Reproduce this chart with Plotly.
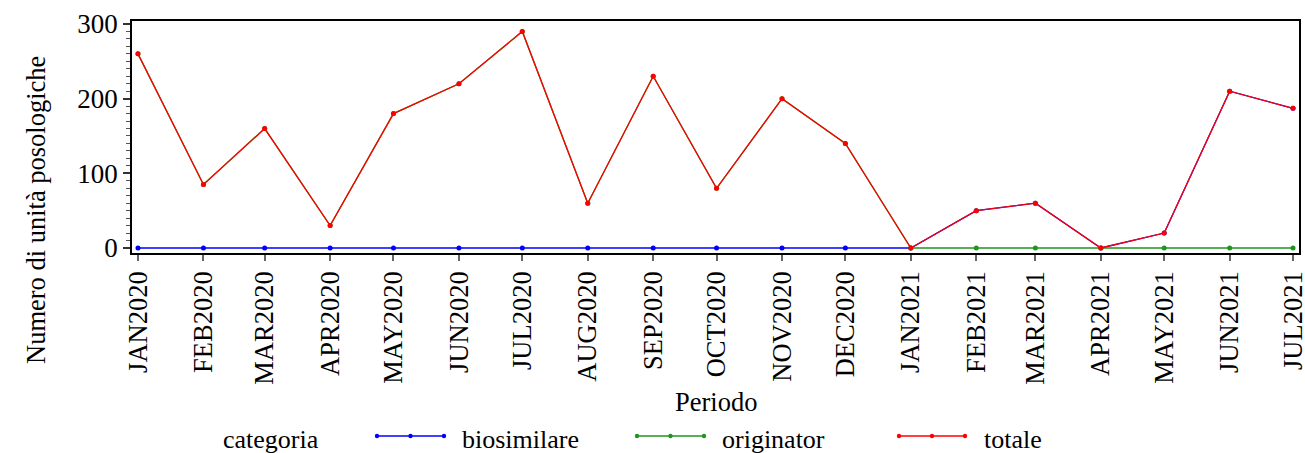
import plotly.graph_objects as go

periodi = ["2020-01-01", "2020-02-01", "2020-03-01", "2020-04-01", "2020-05-01", "2020-06-01",
           "2020-07-01", "2020-08-01", "2020-09-01", "2020-10-01", "2020-11-01", "2020-12-01",
           "2021-01-01", "2021-02-01", "2021-03-01", "2021-04-01", "2021-05-01", "2021-06-01",
           "2021-07-01"]
etichette = ["JAN2020", "FEB2020", "MAR2020", "APR2020", "MAY2020", "JUN2020", "JUL2020",
             "AUG2020", "SEP2020", "OCT2020", "NOV2020", "DEC2020", "JAN2021", "FEB2021",
             "MAR2021", "APR2021", "MAY2021", "JUN2021", "JUL2021"]
totale = [260, 85, 160, 30, 180, 220, 290, 60, 230, 80, 200, 140, 0, 50, 60, 0, 20, 210, 187]
biosimilare = [0, 0, 0, 0, 0, 0, 0, 0, 0, 0, 0, 0, 0, 50, 60, 0, 20, 210, 187]
originator = [260, 85, 160, 30, 180, 220, 290, 60, 230, 80, 200, 140, 0, 0, 0, 0, 0, 0, 0]

categorie = ["biosimilare", "originator", "totale"]
colori = {"biosimilare": "#0000FF", "originator": "#1E961E", "totale": "#FF0000"}
valori = {"biosimilare": biosimilare, "originator": originator, "totale": totale}

FONT = "Liberation Serif"
W, H = 1305, 453
ML, MR, MT, MB = 132, 6, 21, 200
PW, PH = W - ML - MR, H - MT - MB


def px2x(px):
    return (px - ML) / PW


def px2y(py):
    return (H - MB - py) / PH


fig = go.Figure()
for c in categorie:
    fig.add_trace(go.Scatter(
        x=periodi, y=valori[c], mode="lines+markers", name=c,
        line=dict(color=colori[c], width=1.3),
        marker=dict(color=colori[c], size=5, symbol="circle"),
        showlegend=False, cliponaxis=False,
    ))

# manual legend
shapes = []
annotations = []
ly = 436
annotations.append(dict(text="categoria", x=px2x(221), y=px2y(439), xref="paper", yref="paper",
                        xanchor="left", yanchor="middle", showarrow=False,
                        font=dict(family=FONT, size=26, color="black")))
leg_pos = {"biosimilare": (376, 445, 460), "originator": (636, 705, 720), "totale": (898, 966, 982)}
for c in categorie:
    x0, x1, xt = leg_pos[c]
    shapes.append(dict(type="line", xref="paper", yref="paper", x0=px2x(x0), x1=px2x(x1),
                       y0=px2y(ly), y1=px2y(ly), line=dict(color=colori[c], width=1.3)))
    for mx in (x0 + 1, (x0 + x1) / 2, x1 - 1):
        shapes.append(dict(type="circle", xref="paper", yref="paper",
                           x0=px2x(mx - 2.2), x1=px2x(mx + 2.2),
                           y0=px2y(ly + 2.2), y1=px2y(ly - 2.2),
                           fillcolor=colori[c], line=dict(width=0)))
    annotations.append(dict(text=c, x=px2x(xt), y=px2y(439), xref="paper", yref="paper",
                            xanchor="left", yanchor="middle", showarrow=False,
                            font=dict(family=FONT, size=26, color="black")))

annotations.append(dict(text="Periodo", x=0.5, y=px2y(402), xref="paper", yref="paper",
                        xanchor="center", yanchor="middle", showarrow=False,
                        font=dict(family=FONT, size=26.5, color="black")))
annotations.append(dict(text="Numero di unità posologiche", x=px2x(36), y=px2y(210),
                        xref="paper", yref="paper", xanchor="center", yanchor="middle",
                        textangle=-90, showarrow=False,
                        font=dict(family=FONT, size=26.5, color="black")))

fig.update_layout(
    width=W, height=H,
    margin=dict(l=ML, r=MR, t=MT, b=MB, pad=0),
    paper_bgcolor="white", plot_bgcolor="white",
    font=dict(family=FONT, size=26, color="black"),
    shapes=shapes, annotations=annotations,
    xaxis=dict(
        type="date", range=["2019-12-29 04:00", "2021-07-03 20:00"],
        tickvals=periodi, ticktext=etichette, tickangle=-90,
        ticks="outside", ticklen=6, tickcolor="#666666", tickwidth=1.5,
        showline=True, linecolor="black", linewidth=1.5, mirror=True,
        showgrid=False, zeroline=False, automargin=False,
        ticklabeloverflow="allow",
        tickfont=dict(family=FONT, size=26.5, color="black"),
    ),
    yaxis=dict(
        range=[-6.7, 304], tickvals=[0, 100, 200, 300],
        ticks="outside", ticklen=7, tickcolor="#333333", tickwidth=1.5,
        minor=dict(dtick=10, ticks="outside", ticklen=4, tickcolor="#555555", tickwidth=1),
        showline=True, linecolor="black", linewidth=1.5, mirror=True,
        showgrid=False, zeroline=False, automargin=False,
        tickfont=dict(family=FONT, size=27, color="black"),
    ),
)

fig.write_html(
    "out.html",
    config={"displayModeBar": False},
    post_script="document.body.style.margin='0';document.body.style.overflow='hidden';",
)
